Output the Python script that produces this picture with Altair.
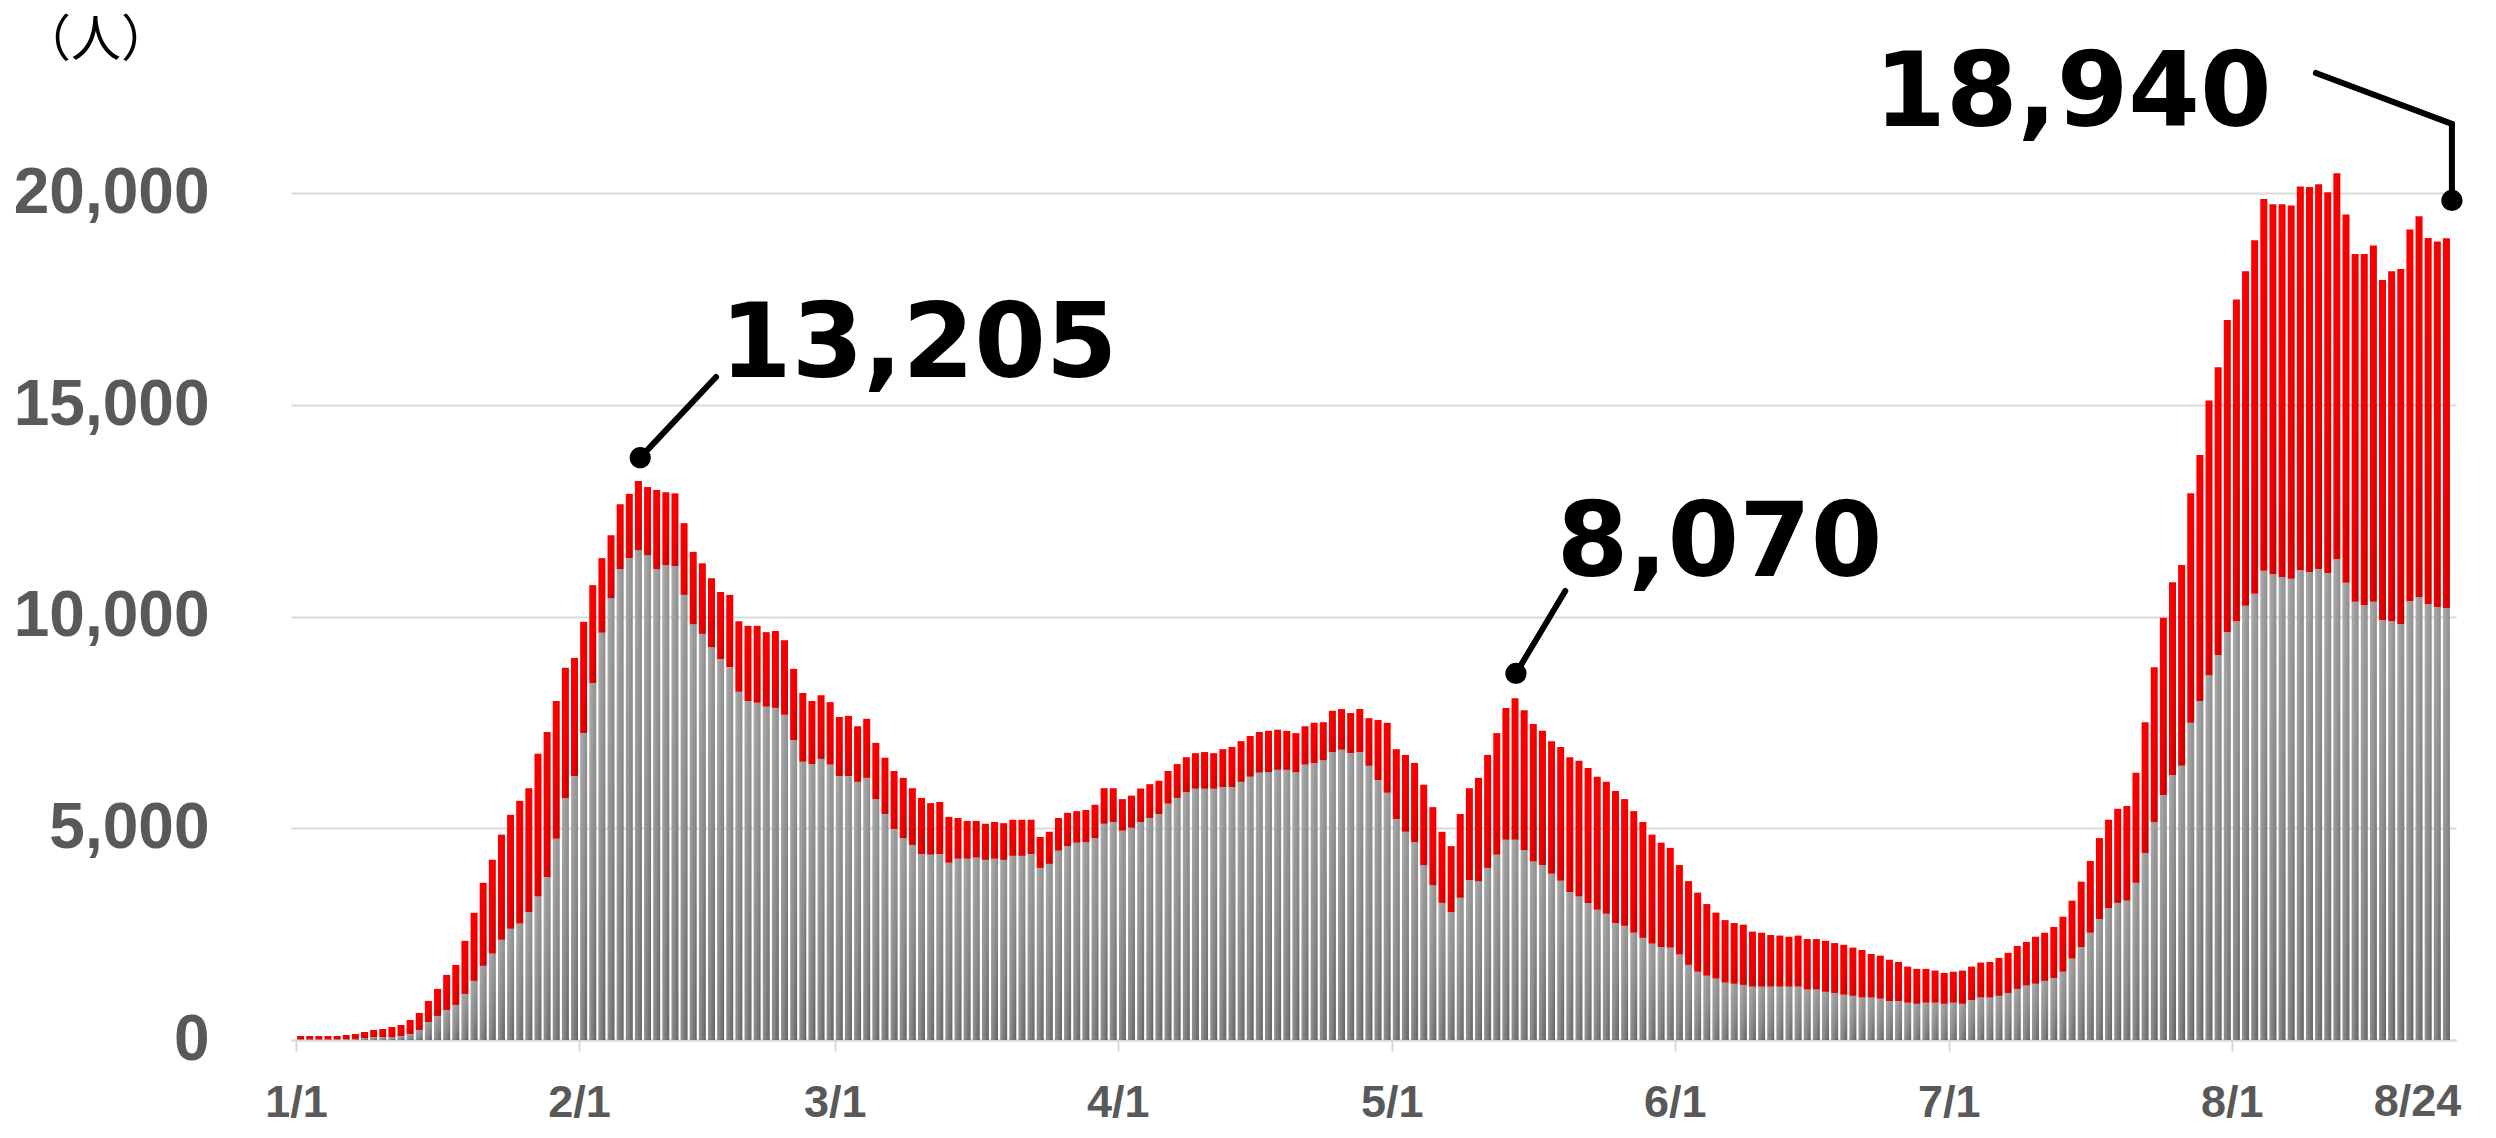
import altair as alt
import pandas as pd

# Daily values, 2022-01-01 .. 2022-08-24 (236 days)
total = [
    95, 95, 95, 95, 95, 118, 142, 189, 237, 260, 308, 355, 473, 639, 923, 1207, 1538, 1774, 2342, 3005, 3714, 4258, 4850, 5320,
    5650, 5948, 6761, 7276, 8008, 8794, 9024, 9878, 10745, 11382, 11924, 12656, 12900, 13205, 13062, 12994, 12940, 12913, 12209, 11531, 11260, 10908, 10583,
    10515, 9892, 9783, 9783, 9634, 9661, 9444, 8767, 8198, 8008, 8144, 7981, 7629, 7656, 7412, 7588, 7019, 6667, 6355, 6192, 5948, 5718, 5596,
    5623, 5271, 5244, 5176, 5176, 5108, 5149, 5122, 5203, 5203, 5203, 4797, 4919, 5244, 5366, 5406, 5434, 5556, 5948, 5948, 5691, 5772, 5940,
    6043, 6125, 6355, 6518, 6680, 6775, 6802, 6775, 6870, 6924, 7060, 7182, 7276, 7303, 7331, 7303, 7249, 7412, 7493, 7507, 7778, 7818, 7724, 7818,
    7602, 7561, 7493, 6870, 6734, 6545, 6030, 5501, 4919, 4580, 5339, 5948, 6192, 6734, 7249, 7845, 8070, 7791, 7466, 7303, 7060, 6924, 6680,
    6599, 6423, 6219, 6098, 5881, 5691, 5406, 5149, 4851, 4661, 4539, 4133, 3753, 3482, 3211, 3008, 2832, 2764, 2724, 2561, 2534,
    2480, 2466, 2439, 2466, 2385, 2385, 2344, 2290, 2249, 2182, 2127, 2032, 1992, 1897, 1843, 1734, 1680, 1680, 1640, 1585, 1612, 1640, 1734,
    1829, 1843, 1938, 2060, 2222, 2317, 2439, 2534, 2669, 2913, 3293, 3740, 4228, 4770, 5203, 5461, 5528, 6314, 7507, 8808, 9973, 10813, 11219,
    12913, 13821, 15108, 15894, 17005, 17493, 18157, 18889, 19864, 19742, 19742, 19715, 20162, 20149, 20217, 20027, 20474, 19498, 18564, 18564, 18767, 17954, 18157, 18211, 19146, 19458, 18943, 18862, 18940,
]
gray = [
    15, 15, 15, 15, 15, 20, 25, 47, 71, 71, 71, 95, 142, 237, 426, 568, 710, 828, 1088, 1396, 1751, 2040, 2368, 2628,
    2751, 3022, 3388, 3848, 4756, 5718, 6233, 7249, 8428, 9621, 10434, 11125, 11382, 11572, 11450, 11125, 11219, 11192, 10515, 9824, 9593, 9282, 8997,
    8808, 8225, 8008, 7967, 7873, 7845, 7683, 7087, 6572, 6518, 6640, 6504, 6233, 6233, 6098, 6192, 5691, 5339, 4986, 4770, 4607, 4390, 4377,
    4390, 4187, 4282, 4282, 4309, 4255, 4282, 4255, 4350, 4350, 4390, 4065, 4160, 4472, 4580, 4661, 4675, 4770, 5108, 5149, 4946, 5014, 5149,
    5244, 5339, 5583, 5718, 5854, 5935, 5935, 5935, 5976, 5976, 6098, 6219, 6314, 6328, 6382, 6382, 6328, 6504, 6545, 6612, 6802, 6856, 6775, 6802,
    6477, 6138, 5840, 5217, 4919, 4675, 4133, 3659, 3238, 3022, 3360, 3780, 3753, 4065, 4377, 4729, 4729, 4485, 4214, 4133, 3930, 3760, 3496,
    3388, 3238, 3076, 2981, 2764, 2696, 2534, 2412, 2276, 2195, 2182, 2019, 1775, 1612, 1518, 1450, 1355, 1328, 1301, 1260, 1260,
    1260, 1260, 1260, 1260, 1192, 1192, 1138, 1111, 1070, 1043, 1003, 1003, 976, 921, 921, 881, 854, 881, 881, 854, 881, 854, 940,
    1003, 1003, 1043, 1111, 1206, 1287, 1328, 1396, 1463, 1612, 1924, 2195, 2534, 2859, 3117, 3238, 3293, 3713, 4417, 5149, 5786, 6260, 6477,
    7493, 8008, 8618, 9092, 9634, 9892, 10257, 10542, 11084, 11003, 10935, 10894, 11097, 11057, 11125, 11030, 11355, 10799, 10352, 10271, 10352, 9919, 9892, 9824, 10366, 10461, 10298, 10230, 10203,
]

# x-axis ticks (day index of month starts) and labels
tick_days = [0, 31, 59, 90, 120, 151, 181, 212]
tick_labels = ["1/1", "2/1", "3/1", "4/1", "5/1", "6/1", "7/1", "8/1"]
last_label = "8/24"
y_ticks = [0, 5000, 10000, 15000, 20000]

# Callouts: label, dot position, text position (day index, value)
call_labels = ["13,205", "8,070", "18,940"]
call_dot_x = [37.2, 133.1, 235.6]
call_dot_y = [13756, 8658, 19832]
call_text_x = [67.7, 155.4, 194.1]
call_text_y = [15663, 10961, 21592]
seg_x = [37.2, 133.1, 235.6, 235.6]
seg_y = [13756, 8658, 19832, 21640]
seg_x2 = [45.5, 138.5, 235.6, 220.7]
seg_y2 = [15663, 10607, 21640, 22844]

N = len(total)
df = pd.DataFrame({"day": list(range(N)), "gray": gray, "total": total})
calls = pd.DataFrame({"label": call_labels, "dx": call_dot_x, "dy": call_dot_y,
                      "tx": call_text_x, "ty": call_text_y})
segs = pd.DataFrame({"x": seg_x, "y": seg_y, "x2": seg_x2, "y2": seg_y2})

W, H = 2165, 1016
x_scale = alt.Scale(domain=[-0.5, N - 0.5], nice=False, zero=False)
y_scale = alt.Scale(domain=[0, 24000], nice=False)

expr = " : ".join(f"datum.value === {d - 0.5} ? '{l}'" for d, l in zip(tick_days, tick_labels)) + " : ''"

TICK_FONT = "Liberation Sans"
TICK_COLOR = "#595959"
X_LABEL_SIZE = 45
X_TICK = 11
X_PAD = 29

x_axis = alt.Axis(values=[d - 0.5 for d in tick_days], labelExpr=expr, grid=False,
                  domainColor="#d9d9d9", domainWidth=2, tickColor="#d9d9d9", tickWidth=2,
                  tickSize=X_TICK, labelFont=TICK_FONT, labelFontWeight="bold",
                  labelFontSize=X_LABEL_SIZE, labelColor=TICK_COLOR, labelPadding=X_PAD,
                  labelFlush=False, labelOverlap=False, labelLimit=400, title=None)
y_axis = alt.Axis(values=y_ticks, format=",.0f", domain=False, ticks=False, grid=True,
                  gridColor="#d9d9d9", gridWidth=2, labelFont=TICK_FONT, labelFontWeight="bold",
                  labelFontSize=64, labelColor=TICK_COLOR, labelPadding=82, labelLimit=400,
                  labelOverlap=False, title=None)

gray_grad = alt.Gradient(gradient="linear",
                         stops=[alt.GradientStop(color="#adadad", offset=0),
                                alt.GradientStop(color="#8a8a8a", offset=0.6),
                                alt.GradientStop(color="#626262", offset=1)],
                         x1=0, y1=0, x2=1, y2=1)
red_grad = alt.Gradient(gradient="linear",
                        stops=[alt.GradientStop(color="#ff0000", offset=0),
                               alt.GradientStop(color="#f20000", offset=0.55),
                               alt.GradientStop(color="#c00000", offset=1)],
                        x1=0, y1=0, x2=1, y2=1)

base = alt.Chart(df)
gray_bars = base.mark_bar(width=7, fill=gray_grad).encode(
    x=alt.X("day:Q", scale=x_scale, axis=x_axis),
    y=alt.Y("gray:Q", scale=y_scale, axis=y_axis),
    y2=alt.datum(0),
)
red_bars = base.mark_bar(width=7, fill=red_grad).encode(
    x=alt.X("day:Q", scale=x_scale, title=None),
    y=alt.Y("total:Q", scale=y_scale, title=None),
    y2="gray:Q",
)

rules = alt.Chart(segs).mark_rule(color="black", strokeWidth=6, strokeCap="round").encode(
    x=alt.X("x:Q", scale=x_scale, title=None),
    y=alt.Y("y:Q", scale=y_scale, title=None),
    x2="x2:Q",
    y2="y2:Q",
)
dots = alt.Chart(calls).mark_circle(size=450, color="black", opacity=1).encode(
    x=alt.X("dx:Q", scale=x_scale, title=None),
    y=alt.Y("dy:Q", scale=y_scale, title=None),
)
texts = alt.Chart(calls).mark_text(font="DejaVu Sans", fontWeight="bold", fontSize=103,
                                   align="center", baseline="alphabetic", color="black").encode(
    x=alt.X("tx:Q", scale=x_scale, title=None),
    y=alt.Y("ty:Q", scale=y_scale, title=None),
    text="label:N",
)

last = alt.Chart(pd.DataFrame({"d": [N - 1], "t": [last_label]})).mark_text(
    font=TICK_FONT, fontWeight="bold", fontSize=X_LABEL_SIZE, color=TICK_COLOR,
    align="center", baseline="top", dx=-29).encode(
    x=alt.X("d:Q", scale=x_scale, title=None),
    y=alt.value(H + X_TICK + X_PAD),
    text="t:N",
)
unit = alt.Chart(pd.DataFrame({"t": ["（人）"]})).mark_text(
    font="Noto Sans CJK JP", fontSize=50, color="black", align="center", baseline="middle").encode(
    x=alt.value(-195), y=alt.value(17), text="t:N")

chart = alt.layer(gray_bars, red_bars, rules, dots, texts, last, unit).properties(
    width=W, height=H,
    autosize=alt.AutoSizeParams(type="none"),
    padding={"left": 283, "top": 16, "right": 30, "bottom": 90},
    background="white",
).configure_view(stroke=None)

chart.save("out.html", embed_options={"renderer": "svg", "actions": False})
